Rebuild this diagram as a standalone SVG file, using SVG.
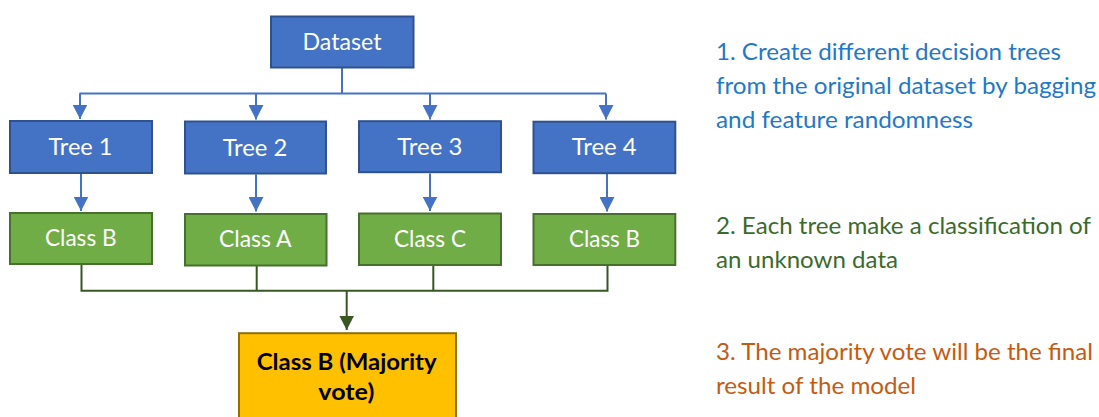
<svg xmlns="http://www.w3.org/2000/svg" width="1099" height="417" viewBox="0 0 1099 417">
  <style>
    .blue { fill: #4472C4; stroke: #2F528F; stroke-width: 2; }
    .green { fill: #70AD47; stroke: #476F2E; stroke-width: 2; }
    .gold { fill: #FFC000; stroke: #8F6F0C; stroke-width: 2; }
    .lbl { font-family: Lato, "Open Sans", "Liberation Sans", sans-serif; font-size: 22.5px; fill: #FFFFFF; text-anchor: middle; }
    .vote { font-family: Lato, "Open Sans", "Liberation Sans", sans-serif; font-size: 23px; font-weight: bold; fill: #000000; text-anchor: middle; }
    .note { font-family: Lato, "Open Sans", "Liberation Sans", sans-serif; font-size: 22.5px; }
    .c-blue { stroke: #4472C4; stroke-width: 2; fill: none; }
    .c-green { stroke: #385723; stroke-width: 2; fill: none; }
  </style>
  <defs>
    <marker id="arrowBlue" markerUnits="userSpaceOnUse" markerWidth="15" markerHeight="15" refX="14.5" refY="7.5" orient="auto">
      <path d="M0,0 L14.5,7.5 L0,15 z" fill="#4472C4"/>
    </marker>
    <marker id="arrowGreen" markerUnits="userSpaceOnUse" markerWidth="15" markerHeight="15" refX="14.5" refY="7.5" orient="auto">
      <path d="M0,0 L14.5,7.5 L0,15 z" fill="#385723"/>
    </marker>
  </defs>

  <rect width="1099" height="417" fill="#FFFFFF"/>

  <!-- connectors -->
  <g id="connectors">
    <!-- dataset fan-out -->
    <path class="c-blue" d="M342,68 V93.5"/>
    <path class="c-blue" d="M79.5,93.5 H606"/>
    <path class="c-blue" d="M80,93.5 V119" marker-end="url(#arrowBlue)"/>
    <path class="c-blue" d="M256,93.5 V119.5" marker-end="url(#arrowBlue)"/>
    <path class="c-blue" d="M430,93.5 V119.5" marker-end="url(#arrowBlue)"/>
    <path class="c-blue" d="M606,93.5 V119.5" marker-end="url(#arrowBlue)"/>
    <!-- tree to class -->
    <path class="c-blue" d="M81,174 V211" marker-end="url(#arrowBlue)"/>
    <path class="c-blue" d="M256,174.5 V211.5" marker-end="url(#arrowBlue)"/>
    <path class="c-blue" d="M430,173.5 V211" marker-end="url(#arrowBlue)"/>
    <path class="c-blue" d="M607,174 V211.5" marker-end="url(#arrowBlue)"/>
    <!-- class votes merge -->
    <path class="c-green" d="M81.5,265 V290.7 H607.5 V265.5"/>
    <path class="c-green" d="M256.7,266 V290.7"/>
    <path class="c-green" d="M433.3,265.5 V290.7"/>
    <path class="c-green" d="M346.7,290.7 V330" marker-end="url(#arrowGreen)"/>
  </g>

  <g id="dataset">
    <rect class="blue" x="271" y="16.5" width="142.5" height="51"/>
    <text class="lbl" x="342" y="50" textLength="79" lengthAdjust="spacingAndGlyphs">Dataset</text>
  </g>

  <g id="tree1">
    <rect class="blue" x="10" y="121" width="142" height="52"/>
    <text class="lbl" x="80.5" y="155" textLength="64" lengthAdjust="spacingAndGlyphs">Tree 1</text>
  </g>
  <g id="tree2">
    <rect class="blue" x="185" y="121.5" width="141" height="52"/>
    <text class="lbl" x="255" y="155.5" textLength="64.7" lengthAdjust="spacingAndGlyphs">Tree 2</text>
  </g>
  <g id="tree3">
    <rect class="blue" x="359" y="121.2" width="142" height="51"/>
    <text class="lbl" x="429.8" y="155" textLength="65" lengthAdjust="spacingAndGlyphs">Tree 3</text>
  </g>
  <g id="tree4">
    <rect class="blue" x="533.5" y="121.7" width="141.8" height="51.5"/>
    <text class="lbl" x="604.2" y="155.3" textLength="65" lengthAdjust="spacingAndGlyphs">Tree 4</text>
  </g>

  <g id="class1">
    <rect class="green" x="10" y="213" width="142" height="51"/>
    <text class="lbl" x="80.8" y="246" textLength="71.7" lengthAdjust="spacingAndGlyphs">Class B</text>
  </g>
  <g id="class2">
    <rect class="green" x="185" y="214" width="141.5" height="51.5"/>
    <text class="lbl" x="255.3" y="246.7" textLength="72.7" lengthAdjust="spacingAndGlyphs">Class A</text>
  </g>
  <g id="class3">
    <rect class="green" x="359" y="213.5" width="142" height="51.5"/>
    <text class="lbl" x="430" y="246.7" textLength="72" lengthAdjust="spacingAndGlyphs">Class C</text>
  </g>
  <g id="class4">
    <rect class="green" x="533.5" y="214" width="141.8" height="51"/>
    <text class="lbl" x="604.5" y="246.7" textLength="71" lengthAdjust="spacingAndGlyphs">Class B</text>
  </g>

  <g id="majority">
    <rect class="gold" x="239" y="333.2" width="217" height="100"/>
    <text class="vote" x="346.7" y="369.5" textLength="180" lengthAdjust="spacingAndGlyphs">Class B (Majority</text>
    <text class="vote" x="346.3" y="400" textLength="56" lengthAdjust="spacingAndGlyphs">vote)</text>
  </g>

  <g id="step1" class="note" fill="#1F78C8">
    <text x="716" y="60" textLength="345" lengthAdjust="spacingAndGlyphs">1. Create different decision trees</text>
    <text x="716" y="94" textLength="380" lengthAdjust="spacingAndGlyphs">from the original dataset by bagging</text>
    <text x="716" y="128" textLength="257" lengthAdjust="spacingAndGlyphs">and feature randomness</text>
  </g>
  <g id="step2" class="note" fill="#3B6A2A">
    <text x="716" y="233.5" textLength="375" lengthAdjust="spacingAndGlyphs">2. Each tree make a classification of</text>
    <text x="716" y="268" textLength="182" lengthAdjust="spacingAndGlyphs">an unknown data</text>
  </g>
  <g id="step3" class="note" fill="#C55A11">
    <text x="716" y="359.5" textLength="377" lengthAdjust="spacingAndGlyphs">3. The majority vote will be the final</text>
    <text x="716" y="393.5" textLength="200" lengthAdjust="spacingAndGlyphs">result of the model</text>
  </g>
</svg>
